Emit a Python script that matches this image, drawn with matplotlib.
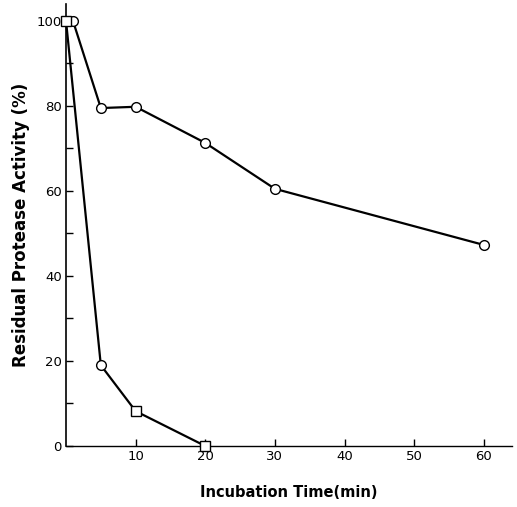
import matplotlib
matplotlib.use("Agg")
import matplotlib.pyplot as plt

# Series A (circles): slow decline
time_a = [1, 5, 10, 20, 30, 60]
act_a = [100, 79.5, 79.8, 71.3, 60.5, 47.3]

# Series B (squares/circle): rapid decline
time_b = [0, 5, 10, 20]
act_b = [100, 19, 8.2, 0]
markers_b = ["s", "o", "s", "s"]

x_ticks = [10, 20, 30, 40, 50, 60]
y_ticks = [0, 20, 40, 60, 80, 100]
y_minor = [10, 30, 50, 70, 90]

fig = plt.figure(figsize=(5.17, 5.07), dpi=100)
ax = fig.add_axes([0.1277, 0.1203, 0.862, 0.872])

ax.plot(time_a, act_a, color="black", lw=1.6, marker="o", ms=7,
        mfc="white", mec="black", mew=1.0, zorder=3, clip_on=False)
ax.plot(time_b, act_b, color="black", lw=1.6, zorder=3, clip_on=False)
for t, a, m in zip(time_b, act_b, markers_b):
    ax.plot([t], [a], marker=m, ms=6.5 if m == "s" else 7, mfc="white",
            mec="black", mew=1.0, ls="none", zorder=4, clip_on=False)

ax.set_xlim(0, 64)
ax.set_ylim(0, 104)
ax.set_xticks(x_ticks)
ax.set_xticklabels([str(v) for v in x_ticks])
ax.set_yticks(y_ticks)
ax.set_yticklabels([str(v) for v in y_ticks])
ax.set_yticks(y_minor, minor=True)

ax.spines["top"].set_visible(False)
ax.spines["right"].set_visible(False)
ax.spines["left"].set_linewidth(1.2)
ax.spines["bottom"].set_linewidth(1.0)
ax.tick_params(axis="both", which="both", direction="in", length=5, width=1,
               labelsize=9.5, pad=3)

ax.set_xlabel("Incubation Time(min)", fontsize=10.5, fontweight="bold", labelpad=16)
ax.set_ylabel("Residual Protease Activity (%)", fontsize=12, fontweight="bold",
              labelpad=5)

fig.savefig("out.png", dpi=100)
